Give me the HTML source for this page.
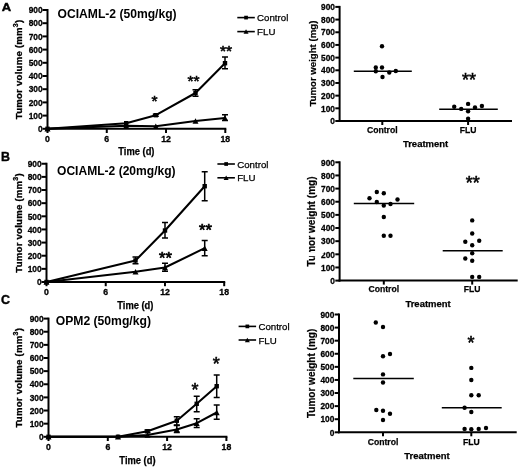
<!DOCTYPE html>
<html><head><meta charset="utf-8"><title>Figure</title>
<style>
html,body{margin:0;padding:0;background:#fff;}
body{width:520px;height:467px;overflow:hidden;font-family:"Liberation Sans",sans-serif;}
</style></head><body>
<svg width="520" height="467" viewBox="0 0 520 467" font-family="Liberation Sans, sans-serif" fill="#000" stroke="none" style="display:block;will-change:transform">
<g>
<text x="1.7" y="10.7" font-size="10.6" font-weight="bold" text-anchor="start" stroke="#000" stroke-width="0.4" textLength="9.4" lengthAdjust="spacingAndGlyphs">A</text>
<line stroke="#000" x1="47.5" y1="9.0" x2="47.5" y2="129.8" stroke-width="2.0"/>
<line stroke="#000" x1="42.5" y1="128.80" x2="47.5" y2="128.80" stroke-width="2.0"/>
<text x="42.6" y="132.0" font-size="9.3" font-weight="bold" text-anchor="end" stroke="#000" stroke-width="0.3" textLength="4.65" lengthAdjust="spacingAndGlyphs">0</text>
<line stroke="#000" x1="42.5" y1="115.60" x2="47.5" y2="115.60" stroke-width="2.0"/>
<text x="42.6" y="118.8" font-size="9.3" font-weight="bold" text-anchor="end" stroke="#000" stroke-width="0.3" textLength="13.96" lengthAdjust="spacingAndGlyphs">100</text>
<line stroke="#000" x1="42.5" y1="102.40" x2="47.5" y2="102.40" stroke-width="2.0"/>
<text x="42.6" y="105.6" font-size="9.3" font-weight="bold" text-anchor="end" stroke="#000" stroke-width="0.3" textLength="13.96" lengthAdjust="spacingAndGlyphs">200</text>
<line stroke="#000" x1="42.5" y1="89.20" x2="47.5" y2="89.20" stroke-width="2.0"/>
<text x="42.6" y="92.4" font-size="9.3" font-weight="bold" text-anchor="end" stroke="#000" stroke-width="0.3" textLength="13.96" lengthAdjust="spacingAndGlyphs">300</text>
<line stroke="#000" x1="42.5" y1="76.00" x2="47.5" y2="76.00" stroke-width="2.0"/>
<text x="42.6" y="79.2" font-size="9.3" font-weight="bold" text-anchor="end" stroke="#000" stroke-width="0.3" textLength="13.96" lengthAdjust="spacingAndGlyphs">400</text>
<line stroke="#000" x1="42.5" y1="62.80" x2="47.5" y2="62.80" stroke-width="2.0"/>
<text x="42.6" y="66.0" font-size="9.3" font-weight="bold" text-anchor="end" stroke="#000" stroke-width="0.3" textLength="13.96" lengthAdjust="spacingAndGlyphs">500</text>
<line stroke="#000" x1="42.5" y1="49.60" x2="47.5" y2="49.60" stroke-width="2.0"/>
<text x="42.6" y="52.8" font-size="9.3" font-weight="bold" text-anchor="end" stroke="#000" stroke-width="0.3" textLength="13.96" lengthAdjust="spacingAndGlyphs">600</text>
<line stroke="#000" x1="42.5" y1="36.40" x2="47.5" y2="36.40" stroke-width="2.0"/>
<text x="42.6" y="39.6" font-size="9.3" font-weight="bold" text-anchor="end" stroke="#000" stroke-width="0.3" textLength="13.96" lengthAdjust="spacingAndGlyphs">700</text>
<line stroke="#000" x1="42.5" y1="23.20" x2="47.5" y2="23.20" stroke-width="2.0"/>
<text x="42.6" y="26.4" font-size="9.3" font-weight="bold" text-anchor="end" stroke="#000" stroke-width="0.3" textLength="13.96" lengthAdjust="spacingAndGlyphs">800</text>
<line stroke="#000" x1="42.5" y1="10.00" x2="47.5" y2="10.00" stroke-width="2.0"/>
<text x="42.6" y="13.2" font-size="9.3" font-weight="bold" text-anchor="end" stroke="#000" stroke-width="0.3" textLength="13.96" lengthAdjust="spacingAndGlyphs">900</text>
<line stroke="#000" x1="46.5" y1="128.8" x2="226.3" y2="128.8" stroke-width="2.0"/>
<line stroke="#000" x1="47.50" y1="128.8" x2="47.50" y2="133.0" stroke-width="2.0"/>
<text x="47.5" y="141.8" font-size="8.3" font-weight="bold" text-anchor="middle" stroke="#000" stroke-width="0.3" textLength="4.85" lengthAdjust="spacingAndGlyphs">0</text>
<line stroke="#000" x1="106.77" y1="128.8" x2="106.77" y2="133.0" stroke-width="2.0"/>
<text x="106.77" y="141.8" font-size="8.3" font-weight="bold" text-anchor="middle" stroke="#000" stroke-width="0.3" textLength="4.85" lengthAdjust="spacingAndGlyphs">6</text>
<line stroke="#000" x1="166.03" y1="128.8" x2="166.03" y2="133.0" stroke-width="2.0"/>
<text x="166.03" y="141.8" font-size="8.3" font-weight="bold" text-anchor="middle" stroke="#000" stroke-width="0.3" textLength="9.69" lengthAdjust="spacingAndGlyphs">12</text>
<line stroke="#000" x1="225.30" y1="128.8" x2="225.30" y2="133.0" stroke-width="2.0"/>
<text x="225.3" y="141.8" font-size="8.3" font-weight="bold" text-anchor="middle" stroke="#000" stroke-width="0.3" textLength="9.69" lengthAdjust="spacingAndGlyphs">18</text>
<text x="136.4" y="155.1" font-size="10.1" font-weight="bold" text-anchor="middle" stroke="#000" stroke-width="0.25" textLength="36.2" lengthAdjust="spacingAndGlyphs">Time (d)</text>
<text x="22" y="69.40" font-size="9.6" letter-spacing="0.235" font-weight="bold" stroke="#000" stroke-width="0.3" text-anchor="middle" transform="rotate(-90 22 69.40)">Tumor volume (mm<tspan font-size="7" dy="-4.2">3</tspan><tspan dy="4.2">)</tspan></text>
<text x="57.6" y="18.1" font-size="12" font-weight="bold" text-anchor="start"  textLength="119.0" lengthAdjust="spacingAndGlyphs">OCIAML-2 (50mg/kg)</text>
<polyline stroke="#000" points="47.50,128.80 126.20,125.80 155.80,126.20 195.50,121.00 225.00,118.00" fill="none" stroke="#000" stroke-width="2.05" stroke-linejoin="round"/>
<polyline stroke="#000" points="47.50,128.80 126.20,123.20 155.80,115.20 195.50,93.00 225.00,63.20" fill="none" stroke="#000" stroke-width="2.05" stroke-linejoin="round"/>
<path d="M44.50 131.50 L50.50 131.50 L47.50 126.10 Z"/>
<path d="M123.20 128.50 L129.20 128.50 L126.20 123.10 Z"/>
<path d="M152.80 128.90 L158.80 128.90 L155.80 123.50 Z"/>
<path d="M192.50 123.70 L198.50 123.70 L195.50 118.30 Z"/>
<path d="M225.00 114.80 V120.50 M222.00 114.80 H228.00 M222.00 120.50 H228.00" fill="none" stroke="#000" stroke-width="1.5"/>
<path d="M222.00 120.70 L228.00 120.70 L225.00 115.30 Z"/>
<rect x="45.30" y="126.60" width="4.4" height="4.4"/>
<rect x="124.00" y="121.00" width="4.4" height="4.4"/>
<path d="M155.80 114.20 V116.20 M152.80 114.20 H158.80 M152.80 116.20 H158.80" fill="none" stroke="#000" stroke-width="1.5"/>
<rect x="153.60" y="113.00" width="4.4" height="4.4"/>
<path d="M195.50 89.80 V96.20 M192.50 89.80 H198.50 M192.50 96.20 H198.50" fill="none" stroke="#000" stroke-width="1.5"/>
<rect x="193.30" y="90.80" width="4.4" height="4.4"/>
<path d="M225.00 57.00 V68.80 M222.00 57.00 H228.00 M222.00 68.80 H228.00" fill="none" stroke="#000" stroke-width="1.5"/>
<rect x="222.80" y="61.00" width="4.4" height="4.4"/>
<text x="154.4" y="105.74" font-size="15.5" text-anchor="middle" stroke="#000" stroke-width="0.6">*</text>
<text x="193.5" y="85.84" font-size="15.5" text-anchor="middle" stroke="#000" stroke-width="0.6">**</text>
<text x="226.1" y="56.24" font-size="15.5" text-anchor="middle" stroke="#000" stroke-width="0.6">**</text>
<line stroke="#000" x1="237.3" y1="17.6" x2="254.8" y2="17.6" stroke-width="1.6"/>
<rect x="244.20" y="15.75" width="3.7" height="3.7"/>
<text x="257.1" y="21.200000000000003" font-size="9.7" text-anchor="start" stroke="#000" stroke-width="0.25">Control</text>
<line stroke="#000" x1="237.3" y1="31.6" x2="254.8" y2="31.6" stroke-width="1.6"/>
<path d="M243.55 33.85 L248.55 33.85 L246.05 29.35 Z"/>
<text x="257.1" y="35.2" font-size="9.7" text-anchor="start" stroke="#000" stroke-width="0.25">FLU</text>
<text x="1.1" y="161.1" font-size="12.6" font-weight="bold" text-anchor="start" stroke="#000" stroke-width="0.4" textLength="9.0" lengthAdjust="spacingAndGlyphs">B</text>
<line stroke="#000" x1="46.5" y1="162.75" x2="46.5" y2="283.0" stroke-width="2.0"/>
<line stroke="#000" x1="41.5" y1="282.00" x2="46.5" y2="282.00" stroke-width="2.0"/>
<text x="41.6" y="285.2" font-size="9.3" font-weight="bold" text-anchor="end" stroke="#000" stroke-width="0.3" textLength="4.65" lengthAdjust="spacingAndGlyphs">0</text>
<line stroke="#000" x1="41.5" y1="268.86" x2="46.5" y2="268.86" stroke-width="2.0"/>
<text x="41.6" y="272.06" font-size="9.3" font-weight="bold" text-anchor="end" stroke="#000" stroke-width="0.3" textLength="13.96" lengthAdjust="spacingAndGlyphs">100</text>
<line stroke="#000" x1="41.5" y1="255.72" x2="46.5" y2="255.72" stroke-width="2.0"/>
<text x="41.6" y="258.92" font-size="9.3" font-weight="bold" text-anchor="end" stroke="#000" stroke-width="0.3" textLength="13.96" lengthAdjust="spacingAndGlyphs">200</text>
<line stroke="#000" x1="41.5" y1="242.58" x2="46.5" y2="242.58" stroke-width="2.0"/>
<text x="41.6" y="245.78" font-size="9.3" font-weight="bold" text-anchor="end" stroke="#000" stroke-width="0.3" textLength="13.96" lengthAdjust="spacingAndGlyphs">300</text>
<line stroke="#000" x1="41.5" y1="229.44" x2="46.5" y2="229.44" stroke-width="2.0"/>
<text x="41.6" y="232.64" font-size="9.3" font-weight="bold" text-anchor="end" stroke="#000" stroke-width="0.3" textLength="13.96" lengthAdjust="spacingAndGlyphs">400</text>
<line stroke="#000" x1="41.5" y1="216.31" x2="46.5" y2="216.31" stroke-width="2.0"/>
<text x="41.6" y="219.51" font-size="9.3" font-weight="bold" text-anchor="end" stroke="#000" stroke-width="0.3" textLength="13.96" lengthAdjust="spacingAndGlyphs">500</text>
<line stroke="#000" x1="41.5" y1="203.17" x2="46.5" y2="203.17" stroke-width="2.0"/>
<text x="41.6" y="206.37" font-size="9.3" font-weight="bold" text-anchor="end" stroke="#000" stroke-width="0.3" textLength="13.96" lengthAdjust="spacingAndGlyphs">600</text>
<line stroke="#000" x1="41.5" y1="190.03" x2="46.5" y2="190.03" stroke-width="2.0"/>
<text x="41.6" y="193.23" font-size="9.3" font-weight="bold" text-anchor="end" stroke="#000" stroke-width="0.3" textLength="13.96" lengthAdjust="spacingAndGlyphs">700</text>
<line stroke="#000" x1="41.5" y1="176.89" x2="46.5" y2="176.89" stroke-width="2.0"/>
<text x="41.6" y="180.09" font-size="9.3" font-weight="bold" text-anchor="end" stroke="#000" stroke-width="0.3" textLength="13.96" lengthAdjust="spacingAndGlyphs">800</text>
<line stroke="#000" x1="41.5" y1="163.75" x2="46.5" y2="163.75" stroke-width="2.0"/>
<text x="41.6" y="166.95" font-size="9.3" font-weight="bold" text-anchor="end" stroke="#000" stroke-width="0.3" textLength="13.96" lengthAdjust="spacingAndGlyphs">900</text>
<line stroke="#000" x1="45.5" y1="282" x2="225.2" y2="282" stroke-width="2.0"/>
<line stroke="#000" x1="46.50" y1="282" x2="46.50" y2="286.2" stroke-width="2.0"/>
<text x="46.5" y="295.0" font-size="8.3" font-weight="bold" text-anchor="middle" stroke="#000" stroke-width="0.3" textLength="4.85" lengthAdjust="spacingAndGlyphs">0</text>
<line stroke="#000" x1="105.73" y1="282" x2="105.73" y2="286.2" stroke-width="2.0"/>
<text x="105.73" y="295.0" font-size="8.3" font-weight="bold" text-anchor="middle" stroke="#000" stroke-width="0.3" textLength="4.85" lengthAdjust="spacingAndGlyphs">6</text>
<line stroke="#000" x1="164.97" y1="282" x2="164.97" y2="286.2" stroke-width="2.0"/>
<text x="164.97" y="295.0" font-size="8.3" font-weight="bold" text-anchor="middle" stroke="#000" stroke-width="0.3" textLength="9.69" lengthAdjust="spacingAndGlyphs">12</text>
<line stroke="#000" x1="224.20" y1="282" x2="224.20" y2="286.2" stroke-width="2.0"/>
<text x="224.2" y="295.0" font-size="8.3" font-weight="bold" text-anchor="middle" stroke="#000" stroke-width="0.3" textLength="9.69" lengthAdjust="spacingAndGlyphs">18</text>
<text x="135.35" y="308.6" font-size="10.1" font-weight="bold" text-anchor="middle" stroke="#000" stroke-width="0.25" textLength="36.2" lengthAdjust="spacingAndGlyphs">Time (d)</text>
<text x="21.9" y="222.88" font-size="9.6" letter-spacing="0.235" font-weight="bold" stroke="#000" stroke-width="0.3" text-anchor="middle" transform="rotate(-90 21.9 222.88)">Tumor volume (mm<tspan font-size="7" dy="-4.2">3</tspan><tspan dy="4.2">)</tspan></text>
<text x="57.0" y="174.7" font-size="12" font-weight="bold" text-anchor="start"  textLength="118.6" lengthAdjust="spacingAndGlyphs">OCIAML-2 (20mg/kg)</text>
<polyline stroke="#000" points="46.50,282.00 135.50,271.70 165.00,267.50 204.70,248.20" fill="none" stroke="#000" stroke-width="2.05" stroke-linejoin="round"/>
<polyline stroke="#000" points="46.50,282.00 135.50,260.50 165.00,230.50 204.70,186.20" fill="none" stroke="#000" stroke-width="2.05" stroke-linejoin="round"/>
<path d="M43.50 284.70 L49.50 284.70 L46.50 279.30 Z"/>
<path d="M132.50 274.40 L138.50 274.40 L135.50 269.00 Z"/>
<path d="M165.00 263.20 V271.30 M162.00 263.20 H168.00 M162.00 271.30 H168.00" fill="none" stroke="#000" stroke-width="1.5"/>
<path d="M162.00 270.20 L168.00 270.20 L165.00 264.80 Z"/>
<path d="M204.70 240.50 V255.80 M201.70 240.50 H207.70 M201.70 255.80 H207.70" fill="none" stroke="#000" stroke-width="1.5"/>
<path d="M201.70 250.90 L207.70 250.90 L204.70 245.50 Z"/>
<rect x="44.30" y="279.80" width="4.4" height="4.4"/>
<path d="M135.50 257.00 V263.80 M132.50 257.00 H138.50 M132.50 263.80 H138.50" fill="none" stroke="#000" stroke-width="1.5"/>
<rect x="133.30" y="258.30" width="4.4" height="4.4"/>
<path d="M165.00 222.50 V238.00 M162.00 222.50 H168.00 M162.00 238.00 H168.00" fill="none" stroke="#000" stroke-width="1.5"/>
<rect x="162.80" y="228.30" width="4.4" height="4.4"/>
<path d="M204.70 171.70 V200.70 M201.70 171.70 H207.70 M201.70 200.70 H207.70" fill="none" stroke="#000" stroke-width="1.5"/>
<rect x="202.50" y="184.00" width="4.4" height="4.4"/>
<text x="165.4" y="264.16" font-size="16.5" text-anchor="middle" stroke="#000" stroke-width="0.7">**</text>
<text x="205.4" y="236.06" font-size="16.5" text-anchor="middle" stroke="#000" stroke-width="0.7">**</text>
<line stroke="#000" x1="217.4" y1="164.0" x2="234.9" y2="164.0" stroke-width="1.6"/>
<rect x="224.30" y="162.15" width="3.7" height="3.7"/>
<text x="237.20000000000002" y="167.6" font-size="9.7" text-anchor="start" stroke="#000" stroke-width="0.25">Control</text>
<line stroke="#000" x1="217.4" y1="177.8" x2="234.9" y2="177.8" stroke-width="1.6"/>
<path d="M223.65 180.05 L228.65 180.05 L226.15 175.55 Z"/>
<text x="237.20000000000002" y="181.4" font-size="9.7" text-anchor="start" stroke="#000" stroke-width="0.25">FLU</text>
<text x="1.1" y="304.3" font-size="12.6" font-weight="bold" text-anchor="start" stroke="#000" stroke-width="0.4" textLength="9.0" lengthAdjust="spacingAndGlyphs">C</text>
<line stroke="#000" x1="48.5" y1="317.6" x2="48.5" y2="437.8" stroke-width="2.0"/>
<line stroke="#000" x1="43.5" y1="436.80" x2="48.5" y2="436.80" stroke-width="2.0"/>
<text x="43.6" y="440.0" font-size="9.3" font-weight="bold" text-anchor="end" stroke="#000" stroke-width="0.3" textLength="4.65" lengthAdjust="spacingAndGlyphs">0</text>
<line stroke="#000" x1="43.5" y1="423.67" x2="48.5" y2="423.67" stroke-width="2.0"/>
<text x="43.6" y="426.87" font-size="9.3" font-weight="bold" text-anchor="end" stroke="#000" stroke-width="0.3" textLength="13.96" lengthAdjust="spacingAndGlyphs">100</text>
<line stroke="#000" x1="43.5" y1="410.53" x2="48.5" y2="410.53" stroke-width="2.0"/>
<text x="43.6" y="413.73" font-size="9.3" font-weight="bold" text-anchor="end" stroke="#000" stroke-width="0.3" textLength="13.96" lengthAdjust="spacingAndGlyphs">200</text>
<line stroke="#000" x1="43.5" y1="397.40" x2="48.5" y2="397.40" stroke-width="2.0"/>
<text x="43.6" y="400.6" font-size="9.3" font-weight="bold" text-anchor="end" stroke="#000" stroke-width="0.3" textLength="13.96" lengthAdjust="spacingAndGlyphs">300</text>
<line stroke="#000" x1="43.5" y1="384.27" x2="48.5" y2="384.27" stroke-width="2.0"/>
<text x="43.6" y="387.47" font-size="9.3" font-weight="bold" text-anchor="end" stroke="#000" stroke-width="0.3" textLength="13.96" lengthAdjust="spacingAndGlyphs">400</text>
<line stroke="#000" x1="43.5" y1="371.13" x2="48.5" y2="371.13" stroke-width="2.0"/>
<text x="43.6" y="374.33" font-size="9.3" font-weight="bold" text-anchor="end" stroke="#000" stroke-width="0.3" textLength="13.96" lengthAdjust="spacingAndGlyphs">500</text>
<line stroke="#000" x1="43.5" y1="358.00" x2="48.5" y2="358.00" stroke-width="2.0"/>
<text x="43.6" y="361.2" font-size="9.3" font-weight="bold" text-anchor="end" stroke="#000" stroke-width="0.3" textLength="13.96" lengthAdjust="spacingAndGlyphs">600</text>
<line stroke="#000" x1="43.5" y1="344.87" x2="48.5" y2="344.87" stroke-width="2.0"/>
<text x="43.6" y="348.07" font-size="9.3" font-weight="bold" text-anchor="end" stroke="#000" stroke-width="0.3" textLength="13.96" lengthAdjust="spacingAndGlyphs">700</text>
<line stroke="#000" x1="43.5" y1="331.73" x2="48.5" y2="331.73" stroke-width="2.0"/>
<text x="43.6" y="334.93" font-size="9.3" font-weight="bold" text-anchor="end" stroke="#000" stroke-width="0.3" textLength="13.96" lengthAdjust="spacingAndGlyphs">800</text>
<line stroke="#000" x1="43.5" y1="318.60" x2="48.5" y2="318.60" stroke-width="2.0"/>
<text x="43.6" y="321.8" font-size="9.3" font-weight="bold" text-anchor="end" stroke="#000" stroke-width="0.3" textLength="13.96" lengthAdjust="spacingAndGlyphs">900</text>
<line stroke="#000" x1="47.5" y1="436.8" x2="227.4" y2="436.8" stroke-width="2.0"/>
<line stroke="#000" x1="48.50" y1="436.8" x2="48.50" y2="441.0" stroke-width="2.0"/>
<text x="48.5" y="449.6" font-size="8.3" font-weight="bold" text-anchor="middle" stroke="#000" stroke-width="0.3" textLength="4.85" lengthAdjust="spacingAndGlyphs">0</text>
<line stroke="#000" x1="107.80" y1="436.8" x2="107.80" y2="441.0" stroke-width="2.0"/>
<text x="107.8" y="449.6" font-size="8.3" font-weight="bold" text-anchor="middle" stroke="#000" stroke-width="0.3" textLength="4.85" lengthAdjust="spacingAndGlyphs">6</text>
<line stroke="#000" x1="167.10" y1="436.8" x2="167.10" y2="441.0" stroke-width="2.0"/>
<text x="167.1" y="449.6" font-size="8.3" font-weight="bold" text-anchor="middle" stroke="#000" stroke-width="0.3" textLength="9.69" lengthAdjust="spacingAndGlyphs">12</text>
<line stroke="#000" x1="226.40" y1="436.8" x2="226.40" y2="441.0" stroke-width="2.0"/>
<text x="226.4" y="449.6" font-size="8.3" font-weight="bold" text-anchor="middle" stroke="#000" stroke-width="0.3" textLength="9.69" lengthAdjust="spacingAndGlyphs">18</text>
<text x="137.45" y="464.1" font-size="10.1" font-weight="bold" text-anchor="middle" stroke="#000" stroke-width="0.25" textLength="36.2" lengthAdjust="spacingAndGlyphs">Time (d)</text>
<text x="22.5" y="377.70" font-size="9.6" letter-spacing="0.235" font-weight="bold" stroke="#000" stroke-width="0.3" text-anchor="middle" transform="rotate(-90 22.5 377.70)">Tumor volume (mm<tspan font-size="7" dy="-4.2">3</tspan><tspan dy="4.2">)</tspan></text>
<text x="55.7" y="325.4" font-size="12" font-weight="bold" text-anchor="start"  textLength="95.3" lengthAdjust="spacingAndGlyphs">OPM2 (50mg/kg)</text>
<polyline stroke="#000" points="48.50,436.80 118.00,436.80 147.50,435.00 176.80,429.50 196.70,423.20 216.70,412.50" fill="none" stroke="#000" stroke-width="2.05" stroke-linejoin="round"/>
<polyline stroke="#000" points="48.50,436.80 118.00,436.80 147.50,431.30 176.80,420.70 196.70,403.80 216.70,386.20" fill="none" stroke="#000" stroke-width="2.05" stroke-linejoin="round"/>
<path d="M45.50 439.50 L51.50 439.50 L48.50 434.10 Z"/>
<path d="M115.00 439.50 L121.00 439.50 L118.00 434.10 Z"/>
<path d="M144.50 437.70 L150.50 437.70 L147.50 432.30 Z"/>
<path d="M176.80 425.50 V432.50 M173.80 425.50 H179.80 M173.80 432.50 H179.80" fill="none" stroke="#000" stroke-width="1.5"/>
<path d="M173.80 432.20 L179.80 432.20 L176.80 426.80 Z"/>
<path d="M196.70 418.80 V427.50 M193.70 418.80 H199.70 M193.70 427.50 H199.70" fill="none" stroke="#000" stroke-width="1.5"/>
<path d="M193.70 425.90 L199.70 425.90 L196.70 420.50 Z"/>
<path d="M216.70 405.00 V419.30 M213.70 405.00 H219.70 M213.70 419.30 H219.70" fill="none" stroke="#000" stroke-width="1.5"/>
<path d="M213.70 415.20 L219.70 415.20 L216.70 409.80 Z"/>
<rect x="46.30" y="434.60" width="4.4" height="4.4"/>
<rect x="115.80" y="434.60" width="4.4" height="4.4"/>
<path d="M147.50 430.00 V432.60 M144.50 430.00 H150.50 M144.50 432.60 H150.50" fill="none" stroke="#000" stroke-width="1.5"/>
<rect x="145.30" y="429.10" width="4.4" height="4.4"/>
<path d="M176.80 416.70 V425.00 M173.80 416.70 H179.80 M173.80 425.00 H179.80" fill="none" stroke="#000" stroke-width="1.5"/>
<rect x="174.60" y="418.50" width="4.4" height="4.4"/>
<path d="M196.70 396.20 V411.80 M193.70 396.20 H199.70 M193.70 411.80 H199.70" fill="none" stroke="#000" stroke-width="1.5"/>
<rect x="194.50" y="401.60" width="4.4" height="4.4"/>
<path d="M216.70 375.00 V397.50 M213.70 375.00 H219.70 M213.70 397.50 H219.70" fill="none" stroke="#000" stroke-width="1.5"/>
<rect x="214.50" y="384.00" width="4.4" height="4.4"/>
<text x="195" y="395.65" font-size="18" text-anchor="middle" stroke="#000" stroke-width="0.55">*</text>
<text x="216.2" y="369.95" font-size="18" text-anchor="middle" stroke="#000" stroke-width="0.55">*</text>
<line stroke="#000" x1="238.6" y1="326.4" x2="256.1" y2="326.4" stroke-width="1.6"/>
<rect x="245.50" y="324.55" width="3.7" height="3.7"/>
<text x="258.4" y="330.0" font-size="9.7" text-anchor="start" stroke="#000" stroke-width="0.25">Control</text>
<line stroke="#000" x1="238.6" y1="340" x2="256.1" y2="340" stroke-width="1.6"/>
<path d="M244.85 342.25 L249.85 342.25 L247.35 337.75 Z"/>
<text x="258.4" y="343.6" font-size="9.7" text-anchor="start" stroke="#000" stroke-width="0.25">FLU</text>
<line stroke="#000" x1="339.6" y1="5.9" x2="339.6" y2="122.0" stroke-width="2.0"/>
<line stroke="#000" x1="335.3" y1="121.00" x2="339.6" y2="121.00" stroke-width="2.0"/>
<text x="335.0" y="124.2" font-size="9.3" font-weight="bold" text-anchor="end" stroke="#000" stroke-width="0.3" textLength="4.65" lengthAdjust="spacingAndGlyphs">0</text>
<line stroke="#000" x1="335.3" y1="108.32" x2="339.6" y2="108.32" stroke-width="2.0"/>
<text x="335.0" y="111.52" font-size="9.3" font-weight="bold" text-anchor="end" stroke="#000" stroke-width="0.3" textLength="13.96" lengthAdjust="spacingAndGlyphs">100</text>
<line stroke="#000" x1="335.3" y1="95.64" x2="339.6" y2="95.64" stroke-width="2.0"/>
<text x="335.0" y="98.84" font-size="9.3" font-weight="bold" text-anchor="end" stroke="#000" stroke-width="0.3" textLength="13.96" lengthAdjust="spacingAndGlyphs">200</text>
<line stroke="#000" x1="335.3" y1="82.97" x2="339.6" y2="82.97" stroke-width="2.0"/>
<text x="335.0" y="86.17" font-size="9.3" font-weight="bold" text-anchor="end" stroke="#000" stroke-width="0.3" textLength="13.96" lengthAdjust="spacingAndGlyphs">300</text>
<line stroke="#000" x1="335.3" y1="70.29" x2="339.6" y2="70.29" stroke-width="2.0"/>
<text x="335.0" y="73.49" font-size="9.3" font-weight="bold" text-anchor="end" stroke="#000" stroke-width="0.3" textLength="13.96" lengthAdjust="spacingAndGlyphs">400</text>
<line stroke="#000" x1="335.3" y1="57.61" x2="339.6" y2="57.61" stroke-width="2.0"/>
<text x="335.0" y="60.81" font-size="9.3" font-weight="bold" text-anchor="end" stroke="#000" stroke-width="0.3" textLength="13.96" lengthAdjust="spacingAndGlyphs">500</text>
<line stroke="#000" x1="335.3" y1="44.93" x2="339.6" y2="44.93" stroke-width="2.0"/>
<text x="335.0" y="48.13" font-size="9.3" font-weight="bold" text-anchor="end" stroke="#000" stroke-width="0.3" textLength="13.96" lengthAdjust="spacingAndGlyphs">600</text>
<line stroke="#000" x1="335.3" y1="32.26" x2="339.6" y2="32.26" stroke-width="2.0"/>
<text x="335.0" y="35.46" font-size="9.3" font-weight="bold" text-anchor="end" stroke="#000" stroke-width="0.3" textLength="13.96" lengthAdjust="spacingAndGlyphs">700</text>
<line stroke="#000" x1="335.3" y1="19.58" x2="339.6" y2="19.58" stroke-width="2.0"/>
<text x="335.0" y="22.78" font-size="9.3" font-weight="bold" text-anchor="end" stroke="#000" stroke-width="0.3" textLength="13.96" lengthAdjust="spacingAndGlyphs">800</text>
<line stroke="#000" x1="335.3" y1="6.90" x2="339.6" y2="6.90" stroke-width="2.0"/>
<text x="335.0" y="10.1" font-size="9.3" font-weight="bold" text-anchor="end" stroke="#000" stroke-width="0.3" textLength="13.96" lengthAdjust="spacingAndGlyphs">900</text>
<line stroke="#000" x1="338.6" y1="121" x2="512" y2="121" stroke-width="2.0"/>
<line stroke="#000" x1="382.3" y1="121" x2="382.3" y2="125" stroke-width="2.0"/>
<text x="382.3" y="133.1" font-size="9.3" font-weight="bold" text-anchor="middle" stroke="#000" stroke-width="0.25" textLength="30.7" lengthAdjust="spacingAndGlyphs">Control</text>
<line stroke="#000" x1="468.1" y1="121" x2="468.1" y2="125" stroke-width="2.0"/>
<text x="468.1" y="133.1" font-size="9.3" font-weight="bold" text-anchor="middle" stroke="#000" stroke-width="0.25" textLength="16.7" lengthAdjust="spacingAndGlyphs">FLU</text>
<text x="425.6" y="146.6" font-size="9.7" font-weight="bold" text-anchor="middle" stroke="#000" stroke-width="0.25" textLength="45.4" lengthAdjust="spacingAndGlyphs">Treatment</text>
<text x="315.9" y="63.6" font-size="9.65" font-weight="bold" text-anchor="middle" transform="rotate(-90 315.9 63.6)" stroke="#000" stroke-width="0.2">Tumor weight (mg)</text>
<line stroke="#000" x1="353.8" y1="71.3" x2="411.8" y2="71.3" stroke-width="1.6"/>
<line stroke="#000" x1="439.2" y1="109.2" x2="497.8" y2="109.2" stroke-width="1.6"/>
<circle cx="382.00" cy="46.30" r="2.2"/>
<circle cx="375.80" cy="67.50" r="2.2"/>
<circle cx="382.00" cy="67.50" r="2.2"/>
<circle cx="375.80" cy="71.30" r="2.2"/>
<circle cx="389.30" cy="72.50" r="2.2"/>
<circle cx="395.80" cy="71.00" r="2.2"/>
<circle cx="382.50" cy="77.00" r="2.2"/>
<circle cx="454.20" cy="106.80" r="2.2"/>
<circle cx="461.20" cy="108.90" r="2.2"/>
<circle cx="468.10" cy="103.90" r="2.2"/>
<circle cx="468.10" cy="111.30" r="2.2"/>
<circle cx="475.00" cy="107.50" r="2.2"/>
<circle cx="481.90" cy="106.00" r="2.2"/>
<circle cx="468.10" cy="118.70" r="2.2"/>
<text x="469" y="86.45" font-size="18" text-anchor="middle" stroke="#000" stroke-width="0.55">**</text>
<line stroke="#000" x1="339.6" y1="161.3" x2="339.6" y2="281.6" stroke-width="2.0"/>
<line stroke="#000" x1="335.3" y1="280.60" x2="339.6" y2="280.60" stroke-width="2.0"/>
<text x="335.0" y="283.8" font-size="9.3" font-weight="bold" text-anchor="end" stroke="#000" stroke-width="0.3" textLength="4.65" lengthAdjust="spacingAndGlyphs">0</text>
<line stroke="#000" x1="335.3" y1="267.46" x2="339.6" y2="267.46" stroke-width="2.0"/>
<text x="335.0" y="270.66" font-size="9.3" font-weight="bold" text-anchor="end" stroke="#000" stroke-width="0.3" textLength="13.96" lengthAdjust="spacingAndGlyphs">100</text>
<line stroke="#000" x1="335.3" y1="254.31" x2="339.6" y2="254.31" stroke-width="2.0"/>
<text x="335.0" y="257.51" font-size="9.3" font-weight="bold" text-anchor="end" stroke="#000" stroke-width="0.3" textLength="13.96" lengthAdjust="spacingAndGlyphs">200</text>
<line stroke="#000" x1="335.3" y1="241.17" x2="339.6" y2="241.17" stroke-width="2.0"/>
<text x="335.0" y="244.37" font-size="9.3" font-weight="bold" text-anchor="end" stroke="#000" stroke-width="0.3" textLength="13.96" lengthAdjust="spacingAndGlyphs">300</text>
<line stroke="#000" x1="335.3" y1="228.02" x2="339.6" y2="228.02" stroke-width="2.0"/>
<text x="335.0" y="231.22" font-size="9.3" font-weight="bold" text-anchor="end" stroke="#000" stroke-width="0.3" textLength="13.96" lengthAdjust="spacingAndGlyphs">400</text>
<line stroke="#000" x1="335.3" y1="214.88" x2="339.6" y2="214.88" stroke-width="2.0"/>
<text x="335.0" y="218.08" font-size="9.3" font-weight="bold" text-anchor="end" stroke="#000" stroke-width="0.3" textLength="13.96" lengthAdjust="spacingAndGlyphs">500</text>
<line stroke="#000" x1="335.3" y1="201.73" x2="339.6" y2="201.73" stroke-width="2.0"/>
<text x="335.0" y="204.93" font-size="9.3" font-weight="bold" text-anchor="end" stroke="#000" stroke-width="0.3" textLength="13.96" lengthAdjust="spacingAndGlyphs">600</text>
<line stroke="#000" x1="335.3" y1="188.59" x2="339.6" y2="188.59" stroke-width="2.0"/>
<text x="335.0" y="191.79" font-size="9.3" font-weight="bold" text-anchor="end" stroke="#000" stroke-width="0.3" textLength="13.96" lengthAdjust="spacingAndGlyphs">700</text>
<line stroke="#000" x1="335.3" y1="175.44" x2="339.6" y2="175.44" stroke-width="2.0"/>
<text x="335.0" y="178.64" font-size="9.3" font-weight="bold" text-anchor="end" stroke="#000" stroke-width="0.3" textLength="13.96" lengthAdjust="spacingAndGlyphs">800</text>
<line stroke="#000" x1="335.3" y1="162.30" x2="339.6" y2="162.30" stroke-width="2.0"/>
<text x="335.0" y="165.5" font-size="9.3" font-weight="bold" text-anchor="end" stroke="#000" stroke-width="0.3" textLength="13.96" lengthAdjust="spacingAndGlyphs">900</text>
<line stroke="#000" x1="338.6" y1="280.6" x2="517.7" y2="280.6" stroke-width="2.0"/>
<line stroke="#000" x1="383.8" y1="280.6" x2="383.8" y2="284.6" stroke-width="2.0"/>
<text x="383.8" y="292.40000000000003" font-size="9.3" font-weight="bold" text-anchor="middle" stroke="#000" stroke-width="0.25" textLength="30.7" lengthAdjust="spacingAndGlyphs">Control</text>
<line stroke="#000" x1="472.2" y1="280.6" x2="472.2" y2="284.6" stroke-width="2.0"/>
<text x="472.2" y="292.40000000000003" font-size="9.3" font-weight="bold" text-anchor="middle" stroke="#000" stroke-width="0.25" textLength="16.7" lengthAdjust="spacingAndGlyphs">FLU</text>
<text x="428.1" y="307.4" font-size="9.7" font-weight="bold" text-anchor="middle" stroke="#000" stroke-width="0.25" textLength="45.4" lengthAdjust="spacingAndGlyphs">Treatment</text>
<text x="315.3" y="221.4" font-size="10.1" font-weight="bold" text-anchor="middle" transform="rotate(-90 315.3 221.4)" stroke="#000" stroke-width="0.2">Tumor weight (mg)</text>
<line stroke="#000" x1="353.8" y1="203.5" x2="414.2" y2="203.5" stroke-width="1.6"/>
<line stroke="#000" x1="442.7" y1="250.8" x2="502.7" y2="250.8" stroke-width="1.6"/>
<circle cx="376.80" cy="192.00" r="2.2"/>
<circle cx="383.80" cy="193.30" r="2.2"/>
<circle cx="369.50" cy="198.30" r="2.2"/>
<circle cx="397.50" cy="199.50" r="2.2"/>
<circle cx="376.80" cy="202.00" r="2.2"/>
<circle cx="390.50" cy="204.00" r="2.2"/>
<circle cx="383.80" cy="205.50" r="2.2"/>
<circle cx="383.80" cy="217.00" r="2.2"/>
<circle cx="383.80" cy="235.80" r="2.2"/>
<circle cx="390.50" cy="235.80" r="2.2"/>
<circle cx="472.20" cy="220.40" r="2.2"/>
<circle cx="472.20" cy="233.50" r="2.2"/>
<circle cx="479.20" cy="240.70" r="2.2"/>
<circle cx="465.30" cy="241.70" r="2.2"/>
<circle cx="472.20" cy="245.30" r="2.2"/>
<circle cx="472.20" cy="253.20" r="2.2"/>
<circle cx="465.30" cy="258.50" r="2.2"/>
<circle cx="472.20" cy="260.80" r="2.2"/>
<circle cx="472.20" cy="276.90" r="2.2"/>
<circle cx="479.20" cy="276.90" r="2.2"/>
<text x="472.7" y="188.75" font-size="18" text-anchor="middle" stroke="#000" stroke-width="0.55">**</text>
<rect x="306" y="252.1" width="11.5" height="4.1" fill="#fff" stroke="none"/>
<path d="M320 249.5 H325.8 V251.3 L323.2 253.2 L320.8 255.8 H320 Z" fill="#fff" stroke="none"/>
<line stroke="#000" x1="339.0" y1="313.5" x2="339.0" y2="433.3" stroke-width="2.0"/>
<line stroke="#000" x1="334.7" y1="432.30" x2="339.0" y2="432.30" stroke-width="2.0"/>
<text x="334.4" y="435.5" font-size="9.3" font-weight="bold" text-anchor="end" stroke="#000" stroke-width="0.3" textLength="4.65" lengthAdjust="spacingAndGlyphs">0</text>
<line stroke="#000" x1="334.7" y1="419.21" x2="339.0" y2="419.21" stroke-width="2.0"/>
<text x="334.4" y="422.41" font-size="9.3" font-weight="bold" text-anchor="end" stroke="#000" stroke-width="0.3" textLength="13.96" lengthAdjust="spacingAndGlyphs">100</text>
<line stroke="#000" x1="334.7" y1="406.12" x2="339.0" y2="406.12" stroke-width="2.0"/>
<text x="334.4" y="409.32" font-size="9.3" font-weight="bold" text-anchor="end" stroke="#000" stroke-width="0.3" textLength="13.96" lengthAdjust="spacingAndGlyphs">200</text>
<line stroke="#000" x1="334.7" y1="393.03" x2="339.0" y2="393.03" stroke-width="2.0"/>
<text x="334.4" y="396.23" font-size="9.3" font-weight="bold" text-anchor="end" stroke="#000" stroke-width="0.3" textLength="13.96" lengthAdjust="spacingAndGlyphs">300</text>
<line stroke="#000" x1="334.7" y1="379.94" x2="339.0" y2="379.94" stroke-width="2.0"/>
<text x="334.4" y="383.14" font-size="9.3" font-weight="bold" text-anchor="end" stroke="#000" stroke-width="0.3" textLength="13.96" lengthAdjust="spacingAndGlyphs">400</text>
<line stroke="#000" x1="334.7" y1="366.86" x2="339.0" y2="366.86" stroke-width="2.0"/>
<text x="334.4" y="370.06" font-size="9.3" font-weight="bold" text-anchor="end" stroke="#000" stroke-width="0.3" textLength="13.96" lengthAdjust="spacingAndGlyphs">500</text>
<line stroke="#000" x1="334.7" y1="353.77" x2="339.0" y2="353.77" stroke-width="2.0"/>
<text x="334.4" y="356.97" font-size="9.3" font-weight="bold" text-anchor="end" stroke="#000" stroke-width="0.3" textLength="13.96" lengthAdjust="spacingAndGlyphs">600</text>
<line stroke="#000" x1="334.7" y1="340.68" x2="339.0" y2="340.68" stroke-width="2.0"/>
<text x="334.4" y="343.88" font-size="9.3" font-weight="bold" text-anchor="end" stroke="#000" stroke-width="0.3" textLength="13.96" lengthAdjust="spacingAndGlyphs">700</text>
<line stroke="#000" x1="334.7" y1="327.59" x2="339.0" y2="327.59" stroke-width="2.0"/>
<text x="334.4" y="330.79" font-size="9.3" font-weight="bold" text-anchor="end" stroke="#000" stroke-width="0.3" textLength="13.96" lengthAdjust="spacingAndGlyphs">800</text>
<line stroke="#000" x1="334.7" y1="314.50" x2="339.0" y2="314.50" stroke-width="2.0"/>
<text x="334.4" y="317.7" font-size="9.3" font-weight="bold" text-anchor="end" stroke="#000" stroke-width="0.3" textLength="13.96" lengthAdjust="spacingAndGlyphs">900</text>
<line stroke="#000" x1="338.0" y1="432.3" x2="516.7" y2="432.3" stroke-width="2.0"/>
<line stroke="#000" x1="383" y1="432.3" x2="383" y2="436.3" stroke-width="2.0"/>
<text x="383" y="444.5" font-size="9.3" font-weight="bold" text-anchor="middle" stroke="#000" stroke-width="0.25" textLength="30.7" lengthAdjust="spacingAndGlyphs">Control</text>
<line stroke="#000" x1="471.3" y1="432.3" x2="471.3" y2="436.3" stroke-width="2.0"/>
<text x="471.3" y="444.5" font-size="9.3" font-weight="bold" text-anchor="middle" stroke="#000" stroke-width="0.25" textLength="16.7" lengthAdjust="spacingAndGlyphs">FLU</text>
<text x="427" y="458.8" font-size="9.7" font-weight="bold" text-anchor="middle" stroke="#000" stroke-width="0.25" textLength="45.4" lengthAdjust="spacingAndGlyphs">Treatment</text>
<text x="315.2" y="373.4" font-size="10.0" font-weight="bold" text-anchor="middle" transform="rotate(-90 315.2 373.4)" stroke="#000" stroke-width="0.2">Tumor weight (mg)</text>
<line stroke="#000" x1="353.3" y1="378.5" x2="413.8" y2="378.5" stroke-width="1.6"/>
<line stroke="#000" x1="441.8" y1="407.7" x2="501.7" y2="407.7" stroke-width="1.6"/>
<circle cx="375.80" cy="322.50" r="2.2"/>
<circle cx="383.00" cy="327.00" r="2.2"/>
<circle cx="390.00" cy="354.00" r="2.2"/>
<circle cx="383.00" cy="356.30" r="2.2"/>
<circle cx="383.00" cy="374.40" r="2.2"/>
<circle cx="383.00" cy="382.50" r="2.2"/>
<circle cx="376.30" cy="410.00" r="2.2"/>
<circle cx="383.00" cy="410.80" r="2.2"/>
<circle cx="390.00" cy="413.80" r="2.2"/>
<circle cx="383.00" cy="420.00" r="2.2"/>
<circle cx="471.30" cy="367.90" r="2.2"/>
<circle cx="471.30" cy="380.00" r="2.2"/>
<circle cx="471.30" cy="395.20" r="2.2"/>
<circle cx="478.70" cy="395.20" r="2.2"/>
<circle cx="464.60" cy="407.70" r="2.2"/>
<circle cx="471.30" cy="412.00" r="2.2"/>
<circle cx="464.60" cy="428.90" r="2.2"/>
<circle cx="471.30" cy="429.30" r="2.2"/>
<circle cx="478.70" cy="428.90" r="2.2"/>
<circle cx="486.00" cy="428.00" r="2.2"/>
<text x="471" y="349.45" font-size="18" text-anchor="middle" stroke="#000" stroke-width="0.55">*</text>
</g></svg>
</body></html>
